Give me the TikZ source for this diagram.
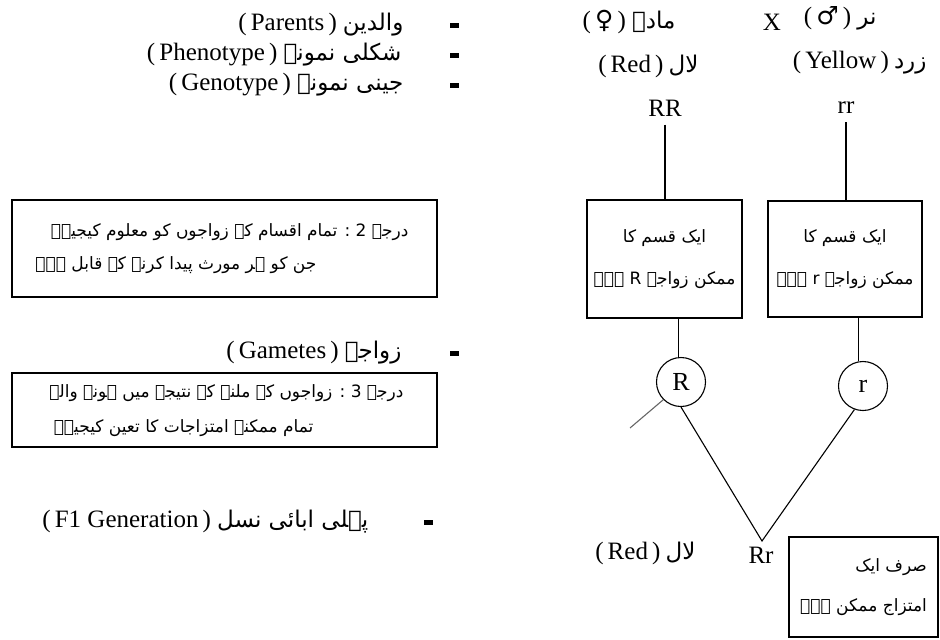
\documentclass[tikz,border=0pt]{standalone}
\usepackage{fontspec}
\setmainfont{Liberation Serif}
\newfontfamily\urdufont[Script=Arabic]{DejaVu Sans}
\newfontfamily\signfont{DejaVu Sans}
\TeXXeTstate=1
\usetikzlibrary{positioning}
\newcommand{\ur}[1]{\beginR #1\endR}

\begin{document}
\begin{tikzpicture}[
    x=1pt, y=-1pt, line width=1.1pt,
    urd/.style={font=\urdufont\fontsize{23}{27}\selectfont, inner sep=1pt},
    urdsmall/.style={font=\urdufont\fontsize{17}{22}\selectfont, inner sep=1pt},
    latn/.style={font=\fontsize{25}{30}\selectfont, inner sep=1pt},
    dot/.style={fill=black, minimum width=9pt, minimum height=5pt, inner sep=0pt},
    stepbox/.style={draw, line width=1.4pt, minimum width=425pt, inner sep=0pt},
    gbox/.style={draw, line width=1.2pt, minimum width=155pt, minimum height=118pt, align=center,
      font=\urdufont\fontsize{17}{42}\selectfont},
    allele/.style={circle, draw, minimum size=49pt, inner sep=0pt, font=\fontsize{26}{30}\selectfont},
    geno/.style={latn, inner ysep=8pt}]
  \useasboundingbox (0,0) rectangle (940,640);

  % left column: names of the rows
  \foreach \y/\n in {25/1, 55/2, 85/3, 353/4} \node[dot] (b\n) at (454,\y) {};
  \node[dot] (b5) at (428,522) {};
  \node[urd, anchor=east] (parU) at (405,25) {\ur{والدین}};
  \node[latn, base left=3pt of parU] (parE) {(\,Parents\,)};
  \node[urd, anchor=east] (phenU) at (403,55) {\ur{شکلی نمونہ}};
  \node[latn, base left=3pt of phenU] (phenE) {(\,Phenotype\,)};
  \node[urd, anchor=east] (genU) at (405,85) {\ur{جینی نمونہ}};
  \node[latn, base left=3pt of genU] (genE) {(\,Genotype\,)};
  \node[urd, anchor=east] (gamU) at (403,353) {\ur{زواجے}};
  \node[latn, base left=3pt of gamU] (gamE) {(\,Gametes\,)};
  \node[urd, anchor=east] (fU) at (370,522) {\ur{پہلی ابائی نسل}};
  \node[latn, base left=3pt of fU] (fE) {(\,F1 Generation\,)};

  % steps 2 and 3
  \node[stepbox, minimum height=97pt] (step2) at (224.5,248.5) {};
  \node[urdsmall, anchor=east] (s2a) at (410,232) {\ur{درجہ 2 : تمام اقسام کے زواجوں کو معلوم کیجیے۔}};
  \node[urdsmall, anchor=east] (s2b) at (318,265) {\ur{جن کو ہر مورث پیدا کرنے کے قابل ہے۔}};
  \node[stepbox, minimum height=74pt] (step3) at (224.5,410) {};
  \node[urdsmall, anchor=east] (s3a) at (405,393) {\ur{درجہ 3 : زواجوں کے ملنے کے نتیجے میں ہونے والے}};
  \node[urdsmall, anchor=east] (s3b) at (315,428) {\ur{تمام ممکنہ امتزاجات کا تعین کیجیے۔}};

  % the cross
  \node[urd, anchor=east] (femU) at (677,22) {\ur{مادہ}};
  \node[latn, base left=3pt of femU] (femE) {(\,{\signfont ♀}\,)};
  \node[latn] (cross) at (772,22) {X};
  \node[urd, anchor=east] (malU) at (878,22) {\ur{نر}};
  \node[latn, base left=3pt of malU] (malE) {(\,{\signfont ♂}\,)};
  \node[urd, anchor=east] (redU) at (700,66) {\ur{لال}};
  \node[latn, base left=2pt of redU] (redE) {(\,Red\,)};
  \node[urd, anchor=east] (yelU) at (928,66) {\ur{زرد}};
  \node[latn, base left=2pt of yelU] (yelE) {(\,Yellow\,)};
  \node[geno] (RR) at (665,108) {RR};
  \node[geno] (rr) at (846,108) {rr};

  \node[gbox] (g1) at (664.5,259) {\ur{ایک قسم کا}\\\ur{ممکن زواجہ R ہے۔}};
  \node[gbox, minimum width=154pt, minimum height=116pt] (g2) at (845,259) {\ur{ایک قسم کا}\\\ur{ممکن زواجہ r ہے۔}};
  \node[allele] (cR) at (681,382) {R};
  \node[allele] (cr) at (863,386) {r};

  \node[latn] (Rr) at (761,555) {Rr};
  \coordinate (apex) at (762,541);
  \node[urd, anchor=east] (red2U) at (697,553) {\ur{لال}};
  \node[latn, base left=2pt of red2U] (red2E) {(\,Red\,)};
  \node[draw, line width=1.2pt, minimum width=149pt, minimum height=100pt, align=right,
    font=\urdufont\fontsize{17}{40}\selectfont] (only) at (863.5,587)
    {\ur{صرف ایک}\\\ur{امتزاج ممکن ہے۔}};
  \coordinate (stray) at (630,428);

  \draw (RR) -- (RR |- g1.north);
  \draw (rr) -- (rr |- g2.north);
  \draw (cR.95 |- g1.south) -- (cR.95);
  \draw (cr.100 |- g2.south) -- (cr.100);
  \draw (cR.south) -- (apex) -- (cr.250);
  \draw[black!60] (cR.225) -- (stray);
\end{tikzpicture}
\end{document}
